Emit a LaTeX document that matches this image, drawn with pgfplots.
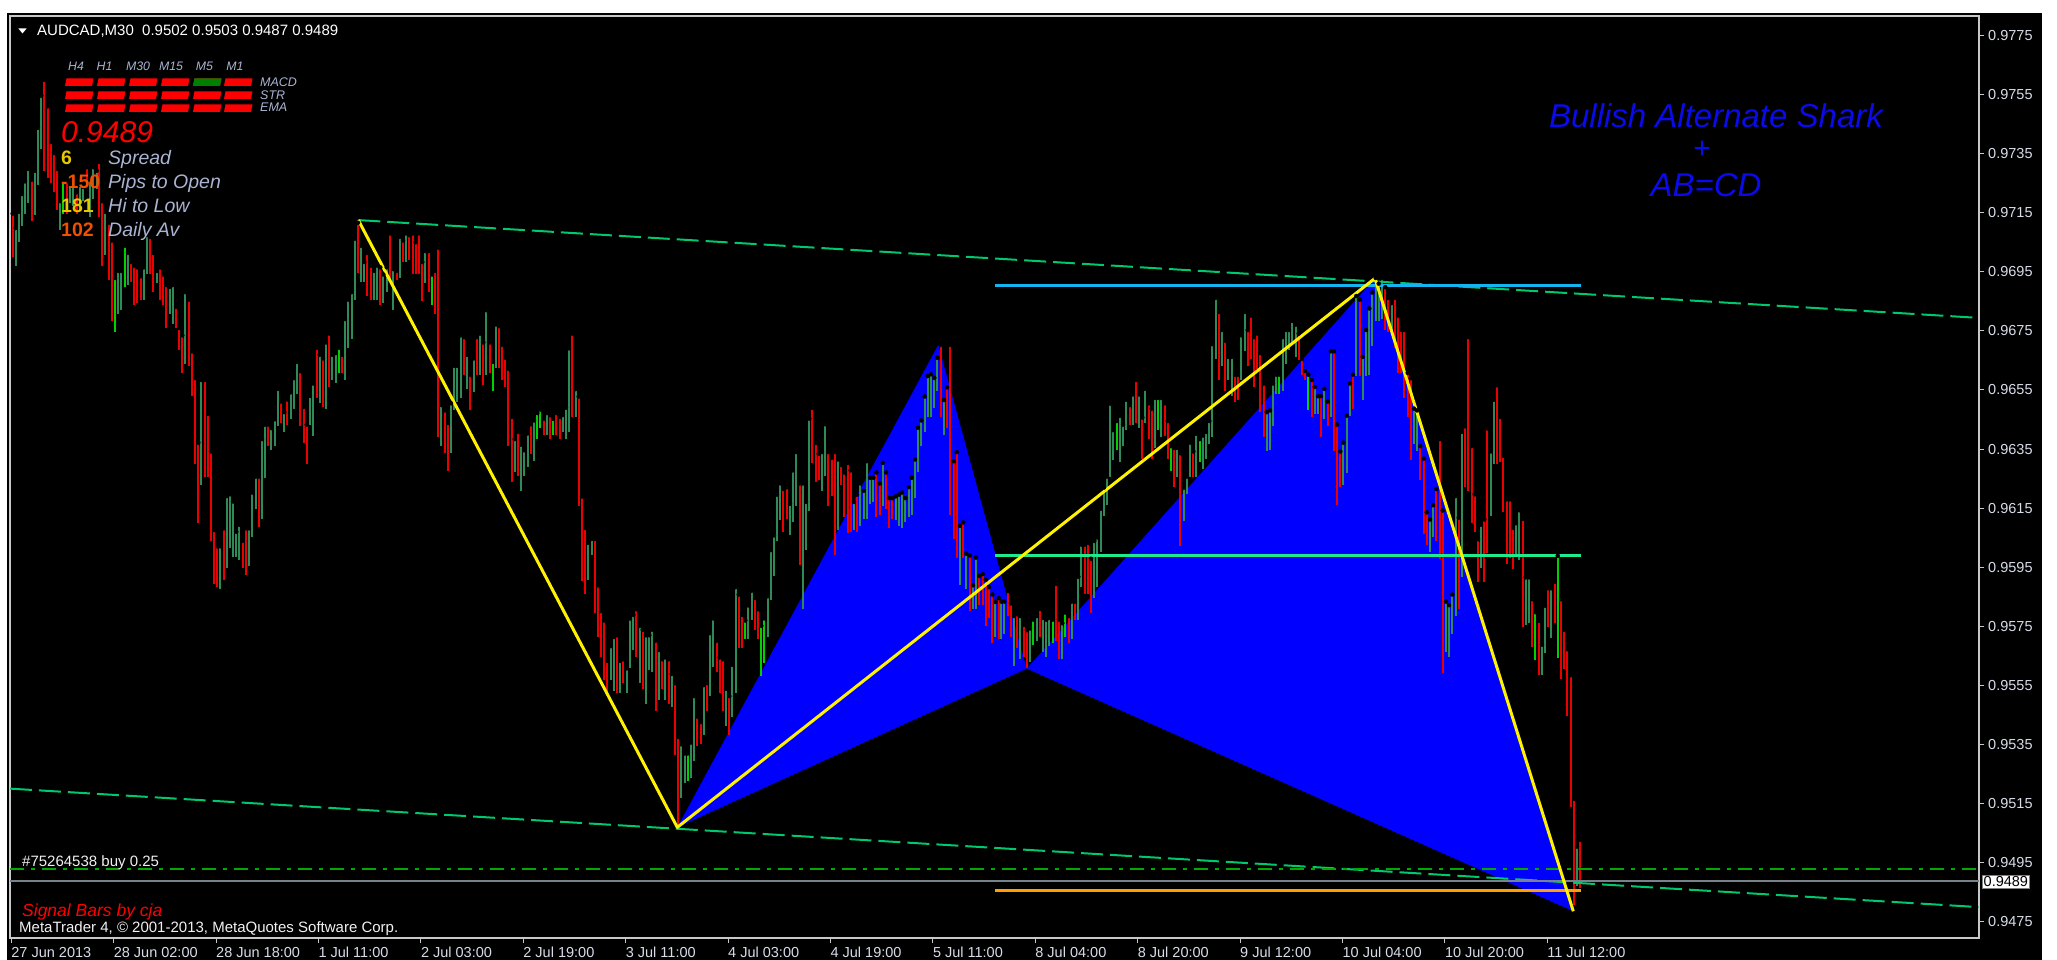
\documentclass[border=0pt]{standalone}
\usepackage{fontspec}
\setmainfont{Liberation Sans}
\usepackage{pgfplots}
\usepackage{pgfplotstable}
\pgfplotsset{compat=1.18}
\definecolor{cRed}{RGB}{235,0,0}
\definecolor{cGreen}{RGB}{46,139,87}
\definecolor{cLime}{RGB}{0,210,0}
\definecolor{cBlue}{RGB}{0,0,255}
\definecolor{cCyan}{RGB}{20,180,240}
\definecolor{cAqua}{RGB}{30,235,140}
\definecolor{cOrange}{RGB}{255,160,0}
\definecolor{cTrend}{RGB}{0,200,110}
\definecolor{cOrder}{RGB}{0,170,0}
\definecolor{cBid}{RGB}{120,130,140}
\definecolor{axisgray}{RGB}{200,200,200}
\definecolor{ticktext}{RGB}{215,220,232}
\definecolor{panel}{RGB}{170,180,210}
\definecolor{cTitle}{RGB}{10,10,235}
\definecolor{cGold}{RGB}{230,200,0}
\definecolor{cOrRed}{RGB}{240,80,0}

\pgfplotstableread{
x h l
12.7 0.97147 0.97001
31.7 0.97262 0.97123
44.3 0.97600 0.97292
47.7 0.97510 0.97268
51.0 0.97389 0.97250
54.0 0.97352 0.97219
57.3 0.97298 0.97159
66.7 0.97256 0.97147
76.7 0.97219 0.97147
86.7 0.97304 0.97244
99.0 0.97322 0.97135
102.0 0.97189 0.96971
108.7 0.97116 0.96923
112.0 0.97056 0.96784
131.0 0.96983 0.96917
134.3 0.96971 0.96838
137.3 0.96965 0.96844
140.7 0.96935 0.96856
150.0 0.97068 0.96941
153.3 0.97014 0.96881
160.0 0.96965 0.96856
163.3 0.96941 0.96838
166.3 0.96905 0.96760
176.0 0.96832 0.96760
179.3 0.96760 0.96687
182.3 0.96735 0.96608
188.7 0.96856 0.96632
192.0 0.96681 0.96530
195.3 0.96590 0.96300
198.3 0.96372 0.96100
204.7 0.96584 0.96257
208.0 0.96469 0.96257
211.0 0.96342 0.96040
214.0 0.96076 0.95894
217.3 0.96021 0.95882
223.7 0.96082 0.95906
242.7 0.96040 0.95949
246.0 0.96082 0.95925
258.7 0.96257 0.96088
268.3 0.96433 0.96360
281.0 0.96511 0.96439
287.3 0.96518 0.96433
300.3 0.96614 0.96427
303.7 0.96493 0.96372
306.7 0.96433 0.96300
316.7 0.96693 0.96524
323.0 0.96657 0.96493
329.3 0.96741 0.96560
342.0 0.96669 0.96608
358.0 0.97116 0.96947
367.3 0.97014 0.96868
370.7 0.96971 0.96856
380.3 0.96965 0.96838
390.0 0.97080 0.96929
396.7 0.96953 0.96923
403.0 0.97056 0.96983
409.3 0.97074 0.96989
412.7 0.97080 0.96941
415.7 0.97050 0.96941
419.0 0.97080 0.96941
422.3 0.96983 0.96850
428.7 0.97020 0.96881
435.0 0.96953 0.96808
438.3 0.97032 0.96391
444.7 0.96481 0.96336
448.0 0.96439 0.96276
464.0 0.96729 0.96602
470.3 0.96602 0.96481
476.7 0.96729 0.96602
483.3 0.96711 0.96566
489.7 0.96711 0.96608
499.3 0.96766 0.96626
502.0 0.96703 0.96584
505.0 0.96659 0.96559
508.3 0.96622 0.96359
511.7 0.96459 0.96240
518.0 0.96409 0.96259
530.7 0.96434 0.96334
543.7 0.96453 0.96397
550.0 0.96465 0.96384
556.3 0.96472 0.96397
559.7 0.96459 0.96384
572.3 0.96741 0.96459
578.7 0.96528 0.96159
582.0 0.96190 0.95902
585.3 0.96083 0.95858
594.7 0.96046 0.95795
598.0 0.95889 0.95714
601.0 0.95802 0.95645
604.3 0.95770 0.95570
607.3 0.95633 0.95533
617.0 0.95720 0.95526
623.3 0.95639 0.95558
636.3 0.95808 0.95645
642.7 0.95739 0.95539
655.7 0.95702 0.95464
662.0 0.95639 0.95539
668.7 0.95639 0.95489
675.0 0.95558 0.95314
678.3 0.95376 0.95076
697.3 0.95445 0.95345
700.7 0.95426 0.95351
707.0 0.95558 0.95464
716.7 0.95702 0.95595
719.7 0.95645 0.95526
723.0 0.95639 0.95464
729.3 0.95514 0.95382
738.7 0.95858 0.95677
742.0 0.95789 0.95677
755.0 0.95846 0.95739
758.0 0.95808 0.95708
783.3 0.96215 0.96071
786.7 0.96221 0.96115
799.7 0.96234 0.95958
812.3 0.96490 0.96303
815.7 0.96371 0.96240
818.7 0.96334 0.96246
828.3 0.96340 0.96159
831.7 0.96321 0.96190
834.7 0.96340 0.95990
841.3 0.96296 0.96227
844.3 0.96271 0.96121
847.7 0.96303 0.96065
850.7 0.96278 0.96071
857.0 0.96196 0.96071
876.3 0.96271 0.96121
879.7 0.96234 0.96127
886.0 0.96271 0.96146
889.3 0.96184 0.96084
892.3 0.96184 0.96115
940.7 0.96703 0.96459
947.0 0.96559 0.96422
950.3 0.96703 0.96127
953.7 0.96309 0.96046
956.7 0.96340 0.95983
963.3 0.96102 0.95983
969.7 0.95990 0.95802
979.3 0.95921 0.95821
982.7 0.95927 0.95821
985.7 0.95908 0.95752
989.0 0.95883 0.95777
992.3 0.95858 0.95695
998.7 0.95846 0.95708
1007.7 0.95870 0.95785
1011.0 0.95828 0.95713
1017.3 0.95791 0.95677
1023.7 0.95755 0.95646
1027.0 0.95737 0.95610
1040.0 0.95809 0.95713
1056.0 0.95894 0.95701
1059.0 0.95773 0.95640
1068.7 0.95785 0.95694
1075.0 0.95834 0.95773
1084.7 0.96027 0.95858
1088.0 0.96033 0.95858
1091.0 0.95979 0.95797
1129.7 0.96499 0.96433
1136.0 0.96584 0.96439
1142.3 0.96457 0.96318
1148.7 0.96505 0.96384
1151.7 0.96487 0.96318
1164.7 0.96505 0.96396
1167.7 0.96445 0.96318
1174.0 0.96354 0.96221
1180.3 0.96336 0.96021
1193.3 0.96342 0.96257
1219.0 0.96814 0.96584
1225.3 0.96717 0.96548
1235.0 0.96602 0.96511
1238.0 0.96602 0.96517
1247.7 0.96753 0.96632
1251.0 0.96802 0.96656
1254.0 0.96729 0.96560
1257.3 0.96741 0.96620
1260.3 0.96675 0.96475
1263.7 0.96572 0.96390
1298.7 0.96741 0.96650
1302.0 0.96656 0.96602
1305.0 0.96614 0.96584
1311.7 0.96584 0.96457
1321.0 0.96529 0.96390
1327.7 0.96511 0.96427
1334.0 0.96681 0.96342
1337.0 0.96433 0.96160
1340.3 0.96342 0.96221
1353.0 0.96602 0.96487
1359.7 0.96856 0.96596
1385.3 0.96898 0.96753
1388.3 0.96862 0.96747
1395.0 0.96862 0.96693
1398.0 0.96802 0.96608
1401.3 0.96753 0.96608
1404.3 0.96753 0.96523
1407.7 0.96608 0.96457
1410.7 0.96590 0.96312
1420.3 0.96360 0.96245
1423.7 0.96318 0.96064
1426.7 0.96136 0.96027
1436.3 0.96215 0.96039
1439.7 0.96384 0.95979
1442.7 0.96142 0.95592
1458.7 0.96118 0.95809
1465.0 0.96427 0.96221
1468.3 0.96729 0.96209
1471.7 0.96360 0.96100
1474.7 0.96197 0.96070
1478.0 0.96045 0.95900
1484.3 0.96112 0.95900
1487.3 0.96420 0.95997
1497.0 0.96566 0.96300
1500.3 0.96459 0.96305
1503.3 0.96327 0.96136
1506.7 0.96180 0.95960
1509.7 0.96180 0.95982
1513.0 0.96084 0.95945
1522.7 0.96114 0.95747
1532.3 0.95842 0.95681
1538.7 0.95769 0.95585
1548.3 0.95879 0.95747
1554.7 0.95901 0.95762
1561.0 0.95842 0.95571
1564.3 0.95739 0.95607
1567.3 0.95673 0.95446
1570.7 0.95585 0.95138
1574.0 0.95167 0.94807
1580.3 0.95028 0.94866
}\redbars

\pgfplotstableread{
x h l
15.7 0.97098 0.96971
19.0 0.97153 0.97050
22.0 0.97213 0.97104
25.0 0.97256 0.97147
28.3 0.97298 0.97183
34.7 0.97292 0.97141
38.0 0.97437 0.97244
41.3 0.97546 0.97365
60.3 0.97189 0.97092
70.0 0.97244 0.97183
73.3 0.97256 0.97171
80.0 0.97244 0.97159
83.3 0.97237 0.97189
90.0 0.97262 0.97135
93.3 0.97304 0.97195
96.7 0.97292 0.97231
105.3 0.97153 0.97008
118.3 0.96953 0.96808
121.3 0.96953 0.96820
128.0 0.97014 0.96905
143.7 0.96965 0.96856
147.0 0.97074 0.96941
156.7 0.96953 0.96911
169.7 0.96899 0.96808
172.7 0.96905 0.96772
185.3 0.96881 0.96639
201.3 0.96584 0.96227
220.3 0.96021 0.95876
226.7 0.96191 0.95949
230.0 0.96197 0.96015
233.0 0.96173 0.95985
236.3 0.96070 0.95985
239.3 0.96094 0.95973
249.0 0.96082 0.95955
252.3 0.96203 0.96052
255.7 0.96257 0.96148
262.0 0.96384 0.96112
265.0 0.96433 0.96251
271.3 0.96421 0.96348
274.7 0.96451 0.96360
278.0 0.96554 0.96427
284.3 0.96475 0.96409
290.7 0.96542 0.96451
294.0 0.96590 0.96487
297.0 0.96645 0.96536
310.0 0.96530 0.96433
313.3 0.96572 0.96396
319.7 0.96669 0.96505
326.0 0.96711 0.96487
332.3 0.96669 0.96584
335.7 0.96675 0.96572
345.0 0.96790 0.96584
348.3 0.96856 0.96693
351.7 0.96881 0.96723
354.7 0.97062 0.96856
361.0 0.97038 0.96917
364.3 0.96983 0.96917
374.0 0.96953 0.96856
377.0 0.96971 0.96856
383.3 0.96941 0.96844
386.7 0.96965 0.96881
393.3 0.96959 0.96820
399.7 0.97068 0.96929
406.0 0.97080 0.96983
425.3 0.97020 0.96911
441.3 0.96499 0.96360
451.0 0.96505 0.96336
454.3 0.96632 0.96481
457.3 0.96632 0.96511
460.7 0.96735 0.96524
467.0 0.96669 0.96554
473.7 0.96657 0.96542
480.0 0.96741 0.96602
486.3 0.96820 0.96602
496.0 0.96772 0.96626
514.7 0.96384 0.96271
521.3 0.96365 0.96209
524.3 0.96346 0.96259
527.7 0.96403 0.96290
534.0 0.96447 0.96309
546.7 0.96472 0.96397
562.7 0.96465 0.96409
566.0 0.96490 0.96384
569.0 0.96691 0.96409
575.7 0.96553 0.96459
588.3 0.96033 0.95908
591.7 0.96046 0.95990
610.7 0.95683 0.95570
614.0 0.95714 0.95533
620.3 0.95633 0.95526
626.7 0.95608 0.95526
630.0 0.95777 0.95608
633.3 0.95789 0.95670
639.7 0.95752 0.95558
646.0 0.95720 0.95489
649.3 0.95720 0.95601
652.3 0.95739 0.95595
659.0 0.95670 0.95501
665.3 0.95645 0.95501
671.7 0.95589 0.95476
681.3 0.95351 0.95170
684.7 0.95320 0.95220
691.0 0.95357 0.95238
694.3 0.95514 0.95295
703.7 0.95551 0.95382
710.0 0.95727 0.95514
713.3 0.95777 0.95614
726.0 0.95539 0.95414
732.3 0.95620 0.95445
735.7 0.95883 0.95526
748.3 0.95821 0.95708
751.7 0.95871 0.95770
767.7 0.95852 0.95714
770.7 0.96008 0.95839
774.0 0.96058 0.95921
777.0 0.96196 0.96040
780.3 0.96234 0.96109
790.0 0.96165 0.96059
793.0 0.96278 0.96102
796.3 0.96340 0.96159
802.7 0.96234 0.95808
806.0 0.96171 0.96008
809.3 0.96453 0.96140
822.0 0.96340 0.96209
825.3 0.96434 0.96259
838.0 0.96315 0.96077
854.0 0.96171 0.96077
860.3 0.96234 0.96090
863.7 0.96209 0.96115
866.7 0.96309 0.96115
870.0 0.96253 0.96165
873.3 0.96253 0.96171
882.7 0.96303 0.96159
895.7 0.96190 0.96109
899.0 0.96196 0.96090
902.0 0.96203 0.96084
905.3 0.96184 0.96102
908.7 0.96221 0.96121
911.7 0.96253 0.96127
915.0 0.96315 0.96184
918.0 0.96422 0.96271
921.3 0.96447 0.96359
924.7 0.96528 0.96409
927.7 0.96597 0.96459
931.0 0.96603 0.96459
934.3 0.96591 0.96490
937.3 0.96659 0.96547
944.0 0.96516 0.96397
960.0 0.96090 0.95889
966.3 0.95996 0.95877
973.0 0.95889 0.95808
976.0 0.95983 0.95808
995.3 0.95833 0.95714
1001.3 0.95834 0.95707
1004.3 0.95834 0.95725
1014.0 0.95785 0.95616
1020.3 0.95785 0.95640
1030.0 0.95743 0.95628
1036.7 0.95785 0.95701
1043.0 0.95779 0.95664
1046.3 0.95773 0.95646
1049.3 0.95779 0.95682
1062.3 0.95761 0.95640
1071.7 0.95834 0.95707
1078.3 0.95918 0.95773
1081.3 0.96027 0.95882
1094.3 0.96039 0.95846
1097.3 0.96051 0.95882
1100.7 0.96148 0.96003
1104.0 0.96220 0.96124
1107.0 0.96257 0.96160
1110.3 0.96504 0.96257
1113.3 0.96414 0.96312
1120.0 0.96463 0.96306
1123.0 0.96433 0.96360
1126.3 0.96517 0.96414
1132.7 0.96535 0.96433
1139.0 0.96535 0.96420
1145.3 0.96554 0.96439
1155.0 0.96523 0.96354
1161.3 0.96523 0.96390
1177.3 0.96354 0.96257
1183.7 0.96220 0.96106
1187.0 0.96257 0.96197
1190.0 0.96372 0.96257
1196.3 0.96402 0.96257
1203.0 0.96396 0.96281
1206.0 0.96408 0.96318
1209.3 0.96445 0.96366
1212.3 0.96705 0.96390
1215.7 0.96862 0.96656
1222.0 0.96753 0.96632
1228.3 0.96662 0.96584
1231.7 0.96662 0.96529
1241.3 0.96735 0.96584
1244.7 0.96814 0.96681
1266.7 0.96475 0.96342
1270.0 0.96481 0.96348
1273.0 0.96572 0.96427
1276.3 0.96602 0.96535
1282.7 0.96729 0.96548
1286.0 0.96753 0.96638
1289.0 0.96753 0.96687
1292.3 0.96784 0.96705
1295.7 0.96771 0.96662
1314.7 0.96560 0.96469
1318.0 0.96529 0.96469
1324.3 0.96554 0.96451
1330.7 0.96681 0.96457
1343.3 0.96372 0.96227
1346.7 0.96463 0.96269
1350.0 0.96572 0.96463
1356.3 0.96868 0.96596
1362.7 0.96662 0.96517
1366.0 0.96753 0.96596
1369.3 0.96826 0.96602
1372.3 0.96880 0.96699
1375.7 0.96929 0.96783
1378.7 0.96910 0.96783
1382.0 0.96929 0.96790
1391.7 0.96844 0.96741
1414.0 0.96487 0.96366
1417.0 0.96481 0.96342
1430.0 0.96112 0.96003
1433.0 0.96160 0.96051
1446.0 0.95834 0.95664
1449.0 0.95822 0.95646
1452.3 0.95858 0.95725
1455.7 0.96191 0.95785
1462.0 0.96408 0.95918
1481.0 0.96094 0.95949
1490.7 0.96342 0.96124
1493.7 0.96517 0.96300
1516.0 0.96099 0.95989
1519.3 0.96143 0.95974
1525.7 0.95916 0.95754
1529.0 0.95916 0.95762
1542.0 0.95688 0.95585
1545.0 0.95820 0.95659
1551.3 0.95879 0.95710
1577.0 0.95005 0.94873
}\greenbars

\pgfplotstableread{
x h l
63.3 0.97256 0.97147
115.0 0.96929 0.96747
124.7 0.97038 0.96899
338.7 0.96693 0.96608
432.0 0.96941 0.96838
493.0 0.96645 0.96548
537.3 0.96472 0.96384
540.3 0.96484 0.96422
553.0 0.96453 0.96397
687.7 0.95320 0.95226
745.3 0.95770 0.95708
761.3 0.95752 0.95583
764.3 0.95777 0.95627
1033.3 0.95773 0.95688
1052.7 0.95773 0.95694
1065.3 0.95797 0.95713
1116.7 0.96445 0.96348
1158.3 0.96523 0.96414
1171.0 0.96360 0.96275
1199.7 0.96384 0.96306
1279.3 0.96602 0.96535
1308.3 0.96602 0.96481
1535.3 0.95798 0.95637
1557.7 0.95989 0.95644
}\limebars

\begin{document}
\begin{tikzpicture}[x=1pt,y=1pt]
\fill[white] (0,0) rectangle (2057,960);
\fill[black] (7,0) rectangle (2042,947);
\begin{axis}[
  at={(10pt,22pt)}, anchor=south west,
  scale only axis, width=1969pt, height=922pt,
  xmin=10, xmax=1979, ymin=0.946955, ymax=0.978157,
  axis line style={draw=axisgray, line width=1.3pt},
  tick style={draw=axisgray, line width=1pt},
  tick align=outside, major tick length=5pt,
  ytick pos=right, yticklabel pos=right,
  xtick pos=left,
  ytick={0.9475,0.9495,0.9515,0.9535,0.9555,0.9575,0.9595,0.9615,0.9635,0.9655,0.9675,0.9695,0.9715,0.9735,0.9755,0.9775},
  yticklabels={0.9475,0.9495,0.9515,0.9535,0.9555,0.9575,0.9595,0.9615,0.9635,0.9655,0.9675,0.9695,0.9715,0.9735,0.9755,0.9775},
  xtick={11.2,113.6,216.0,318.4,420.8,523.2,625.6,728.0,830.4,932.8,1035.2,1137.6,1240.0,1342.4,1444.8,1547.2},
  xticklabels={27 Jun 2013,28 Jun 02:00,28 Jun 18:00,1 Jul 11:00,2 Jul 03:00,2 Jul 19:00,3 Jul 11:00,4 Jul 03:00,4 Jul 19:00,5 Jul 11:00,8 Jul 04:00,8 Jul 20:00,9 Jul 12:00,10 Jul 04:00,10 Jul 20:00,11 Jul 12:00},
  ticklabel style={font=\fontsize{14.5}{16}\selectfont, text=ticktext},
  yticklabel style={anchor=west, inner sep=0pt, xshift=4pt},
  xticklabel style={anchor=base west, inner sep=0pt, yshift=-15pt, xshift=0pt},
]
% harmonic pattern fills
\addplot[fill=cBlue, draw=none] coordinates {(677.3,0.95070) (938.3,0.96703) (1026.7,0.95607)} -- cycle;
\addplot[fill=cBlue, draw=none] coordinates {(1026.7,0.95607) (1375,0.96928) (1573.3,0.94786)} -- cycle;
% bars
\addplot[only marks, mark=none, error bars/.cd, y dir=minus, y explicit, error mark=none,
  error bar style={draw=cRed, line width=2.2pt}]
  table[x=x, y=h, y error expr=\thisrow{h}-\thisrow{l}] {\redbars};
\addplot[only marks, mark=none, error bars/.cd, y dir=minus, y explicit, error mark=none,
  error bar style={draw=cGreen, line width=2.2pt}]
  table[x=x, y=h, y error expr=\thisrow{h}-\thisrow{l}] {\greenbars};
\addplot[only marks, mark=none, error bars/.cd, y dir=minus, y explicit, error mark=none,
  error bar style={draw=cLime, line width=2.2pt}]
  table[x=x, y=h, y error expr=\thisrow{h}-\thisrow{l}] {\limebars};
% trend lines
\addplot[cTrend, line width=2pt, dash pattern=on 22pt off 7pt] coordinates {(358.3,0.97125) (1979,0.96794)};
\addplot[cTrend, line width=2pt, dash pattern=on 22pt off 7pt] coordinates {(10,0.95201) (1979,0.94800)};
% order and bid lines
\addplot[cOrder, line width=1.6pt, dash pattern=on 14pt off 7pt on 4pt off 7pt] coordinates {(10,0.94928) (1979,0.94928)};
\addplot[cBid, line width=1.5pt] coordinates {(10,0.94888) (1979,0.94888)};
% levels
\addplot[cCyan, line width=3pt] coordinates {(995,0.96904) (1581,0.96904)};
\addplot[cAqua, line width=3pt] coordinates {(995,0.95989) (1581,0.95989)};
\addplot[cOrange, line width=3pt] coordinates {(995,0.94855) (1581,0.94855)};
% XABCD
\addplot[yellow, line width=3pt, line join=round] coordinates {(358.3,0.97125) (677.3,0.95070) (1375,0.96928) (1573.3,0.94786)};
\end{axis}
% price box
\node[fill=white, draw=gray, inner sep=1.5pt, text=black, font=\fontsize{14.5}{16}\selectfont, anchor=west] at (1982,78) {0.9489};
% header
\fill[white] (18.3,931.7) -- (26.7,931.7) -- (22.5,926.5) -- cycle;
\node[anchor=base west, inner sep=0pt, text=white, font=\fontsize{15}{17}\selectfont] at (37,924.6) {AUDCAD,M30\ \ 0.9502 0.9503 0.9487 0.9489};
% signal panel
\foreach \cx/\lab in {76/H4,104.5/H1,138/M30,171/M15,204.5/M5,235/M1}{
  \node[anchor=base, inner sep=0pt, text=panel, font=\fontsize{12.3}{14}\itshape] at (\cx,889.3) {\lab};
}
\foreach \row/\yb in {1/874,2/861,3/848}{
  \foreach \xa in {65,97,129,161,193,224}{
    \fill[red] (\xa,\yb) -- ++(27,0) -- ++(1.5,7.5) -- ++(-27,0) -- cycle;
  }
}
\fill[green!50!black] (193,874) -- ++(27,0) -- ++(1.5,7.5) -- ++(-27,0) -- cycle;
\node[anchor=base west, inner sep=0pt, text=panel, font=\fontsize{12.5}{14}\itshape] at (260,873) {MACD};
\node[anchor=base west, inner sep=0pt, text=panel, font=\fontsize{12.5}{14}\itshape] at (260,860.5) {STR};
\node[anchor=base west, inner sep=0pt, text=panel, font=\fontsize{12.5}{14}\itshape] at (260,848) {EMA};
\node[anchor=base west, inner sep=0pt, text=red, font=\fontsize{30}{34}\itshape] at (61,817) {0.9489};
\node[anchor=base west, inner sep=0pt, text=cGold, font=\fontsize{19.5}{22}\bfseries] at (61,795) {6};
\node[anchor=base west, inner sep=0pt, text=cOrRed, font=\fontsize{19.5}{22}\bfseries] at (61,771) {-150};
\node[anchor=base west, inner sep=0pt, text=cGold, font=\fontsize{19.5}{22}\bfseries] at (61,747) {181};
\node[anchor=base west, inner sep=0pt, text=cOrRed, font=\fontsize{19.5}{22}\bfseries] at (61,723) {102};
\node[anchor=base west, inner sep=0pt, text=panel, font=\fontsize{19.5}{22}\itshape] at (108,795) {Spread};
\node[anchor=base west, inner sep=0pt, text=panel, font=\fontsize{19.5}{22}\itshape] at (108,771) {Pips to Open};
\node[anchor=base west, inner sep=0pt, text=panel, font=\fontsize{19.5}{22}\itshape] at (108,747) {Hi to Low};
\node[anchor=base west, inner sep=0pt, text=panel, font=\fontsize{19.5}{22}\itshape] at (108,723) {Daily Av};
% pattern title
\node[anchor=base, inner sep=0pt, text=cTitle, font=\fontsize{33}{38}\itshape] at (1716,832) {Bullish Alternate Shark};
\node[anchor=center, inner sep=0pt, text=cTitle, font=\fontsize{30}{34}\selectfont] at (1702,810) {+};
\node[anchor=base, inner sep=0pt, text=cTitle, font=\fontsize{33}{38}\itshape] at (1706,763) {AB=CD};
% order label and footer
\node[anchor=base west, inner sep=0pt, text=white!88!gray, font=\fontsize{15}{17}\selectfont] at (22,93.5) {\#75264538 buy 0.25};
\node[anchor=base west, inner sep=0pt, text=red, font=\fontsize{17.5}{20}\itshape] at (22,43) {Signal Bars by cja};
\node[anchor=base west, inner sep=0pt, text=white!90!gray, font=\fontsize{15}{17}\selectfont] at (19,27) {MetaTrader 4, © 2001-2013, MetaQuotes Software Corp.};
\end{tikzpicture}
\end{document}
